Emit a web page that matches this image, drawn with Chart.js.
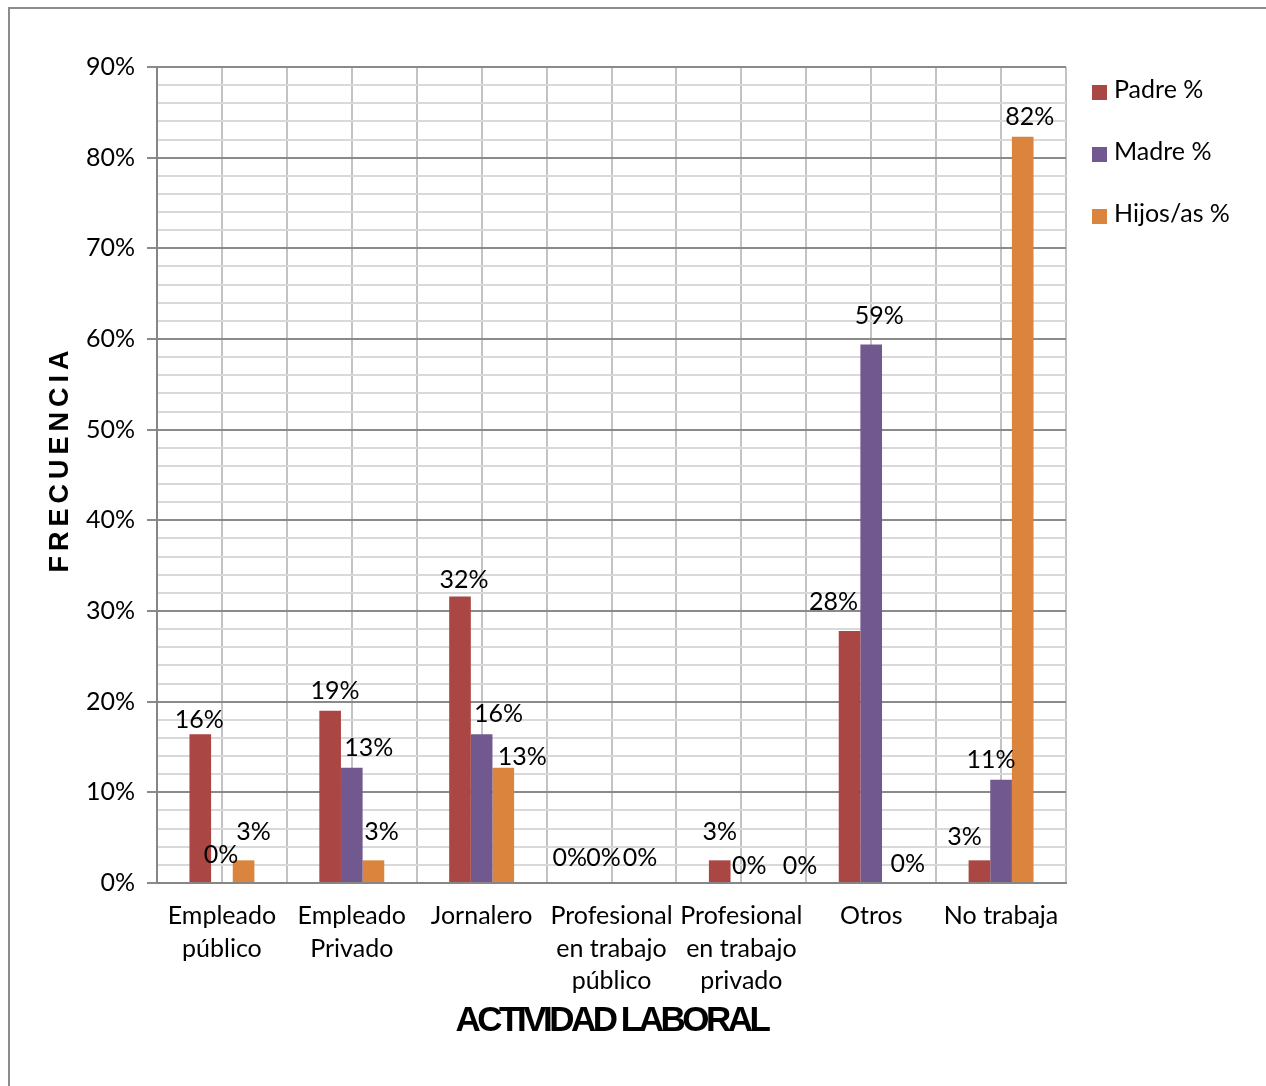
<!DOCTYPE html>
<html lang="es">
<head>
<meta charset="utf-8">
<title>Actividad laboral</title>
<script src="https://cdn.jsdelivr.net/npm/chart.js@4.4.1/dist/chart.umd.min.js"></script>
<style>
  html, body { margin: 0; padding: 0; background: #ffffff; }
  #wrap { position: relative; width: 1266px; height: 1086px; overflow: hidden; }
  #frame {
    position: absolute; left: 8px; top: 7px; width: 1300px; height: 1120px;
    border-top: 2px solid #8c8c8c; border-left: 2px solid #8c8c8c;
    box-sizing: border-box;
  }
  #chart { position: absolute; left: 0; top: 0; }
</style>
</head>
<body>
<div id="wrap">
  <div id="frame"></div>
  <canvas id="chart" width="1266" height="1086"></canvas>
</div>
<script>
// Categorías de actividad laboral (etiquetas del eje X)
const categorias = [
  ['Empleado', 'público'],
  ['Empleado', 'Privado'],
  'Jornalero',
  ['Profesional', 'en trabajo', 'público'],
  ['Profesional', 'en trabajo', 'privado'],
  'Otros',
  'No trabaja'
];

// Porcentajes por miembro de la familia
const padre = [16.4, 19.0, 31.6, 0, 2.5, 27.8, 2.5];
const madre = [0, 12.7, 16.4, 0, 0, 59.4, 11.4];
const hijos = [2.5, 2.5, 12.7, 0, 0, 0, 82.3];

const nombresSeries = ['Padre %', 'Madre %', 'Hijos/as %'];
const coloresSeries = ['#AA4643', '#71588F', '#DB843D'];

// Eje Y: 0–90 %, rejilla menor cada 2 %, etiquetas cada 10 %
const ejeMax = 90;
const pasoMenor = 2;
const pasoMayor = 10;

const tituloX = 'ACTIVIDAD LABORAL';
const tituloY = 'FRECUENCIA';

// Desplazamiento de cada etiqueta de valor respecto al extremo de su barra [dx, dy]
const ajusteEtiquetas = [
  [[-1, -14], [5, -20], [4, -17], [-20, -25], [0, -28], [-16, -29], [-15, -23]],
  [[-1, -28], [17, -20], [17, -20], [-8, -25], [8, -17], [8, -29], [-10, -20]],
  [[10, -28], [8, -28], [19, -11], [7, -25], [37, -17], [15, -19], [7, -20]]
];

const fuente = 'Lato, "Open Sans", "DejaVu Sans", sans-serif';
const fuenteTitulo = '"Liberation Sans", Arial, "DejaVu Sans", sans-serif';

// Líneas verticales de la rejilla: bordes y centros de cada categoría
const rejillaVertical = {
  id: 'rejillaVertical',
  beforeDraw(chart) {
    const { ctx, chartArea: a, scales: { x } } = chart;
    const n = chart.data.labels.length;
    const xs = [];
    for (let i = 0; i < n; i++) {
      const c = x.getPixelForValue(i);
      const h = x.getPixelForValue(i + 0.5) - c;
      xs.push(c - h, c);
      if (i === n - 1) xs.push(c + h);
    }
    ctx.save();
    ctx.strokeStyle = '#c3c3c3';
    ctx.lineWidth = 2;
    xs.forEach(px => {
      ctx.beginPath();
      ctx.moveTo(Math.round(px), a.top);
      ctx.lineTo(Math.round(px), a.bottom);
      ctx.stroke();
    });
    ctx.restore();
  }
};

// Etiquetas de valor sobre cada barra
const etiquetasValor = {
  id: 'etiquetasValor',
  afterDatasetsDraw(chart) {
    const { ctx } = chart;
    ctx.save();
    ctx.font = '25px ' + fuente;
    ctx.fillStyle = '#000000';
    ctx.textAlign = 'center';
    ctx.textBaseline = 'middle';
    chart.data.datasets.forEach((ds, di) => {
      const meta = chart.getDatasetMeta(di);
      meta.data.forEach((bar, i) => {
        const [dx, dy] = ajusteEtiquetas[di][i];
        ctx.fillText(Math.round(ds.data[i]) + '%', bar.x + dx, bar.y + dy);
      });
    });
    ctx.restore();
  }
};

// Títulos de los ejes y leyenda
const titulosYLeyenda = {
  id: 'titulosYLeyenda',
  afterDraw(chart) {
    const { ctx, chartArea: a } = chart;
    ctx.save();
    ctx.fillStyle = '#000000';
    ctx.textAlign = 'center';
    ctx.textBaseline = 'middle';

    // Título del eje Y
    ctx.save();
    ctx.translate(61, (a.top + a.bottom) / 2 - 16);
    ctx.rotate(-Math.PI / 2);
    ctx.font = 'bold 27px ' + fuenteTitulo;
    if ('letterSpacing' in ctx) ctx.letterSpacing = '5px';
    ctx.fillText(tituloY, 0, 0);
    ctx.restore();

    // Título del eje X
    ctx.save();
    ctx.font = 'bold 35px ' + fuenteTitulo;
    if ('letterSpacing' in ctx) ctx.letterSpacing = '-3.5px';
    ctx.fillText(tituloX, (a.left + a.right) / 2, 1021);
    ctx.restore();

    // Leyenda
    ctx.font = '25px ' + fuente;
    ctx.textAlign = 'left';
    chart.data.datasets.forEach((ds, i) => {
      const y = a.top + 23 + i * 62;
      ctx.fillStyle = ds.backgroundColor;
      ctx.fillRect(a.right + 26, y - 5, 15, 15);
      ctx.fillStyle = '#000000';
      ctx.fillText(ds.label, a.right + 48, y);
    });
    ctx.restore();
  }
};

const esMayor = v => Math.abs(v % pasoMayor) < 1e-6;

new Chart(document.getElementById('chart'), {
  type: 'bar',
  data: {
    labels: categorias,
    datasets: [
      { label: nombresSeries[0], data: padre, backgroundColor: coloresSeries[0] },
      { label: nombresSeries[1], data: madre, backgroundColor: coloresSeries[1] },
      { label: nombresSeries[2], data: hijos, backgroundColor: coloresSeries[2] }
    ]
  },
  options: {
    responsive: false,
    animation: false,
    devicePixelRatio: 1,
    layout: { padding: { top: 67, right: 200, bottom: 0, left: 0 } },
    datasets: { bar: { categoryPercentage: 0.5, barPercentage: 1.0, borderWidth: 0 } },
    plugins: {
      legend: { display: false },
      tooltip: { enabled: false }
    },
    scales: {
      x: {
        offset: true,
        grid: { display: false, drawTicks: false },
        border: { display: true, color: '#868686', width: 2 },
        ticks: {
          color: '#000000',
          font: { family: fuente, size: 25, lineHeight: 1.3 },
          padding: 17,
          maxRotation: 0,
          autoSkip: false
        },
        afterFit(scale) { scale.height = 203; }
      },
      y: {
        min: 0,
        max: ejeMax,
        border: { display: true, color: '#868686', width: 2 },
        grid: {
          color: c => esMayor(c.tick.value) ? '#8a8a8a' : '#d9d9d9',
          tickColor: c => esMayor(c.tick.value) ? '#8a8a8a' : 'rgba(0,0,0,0)',
          lineWidth: 2,
          tickLength: 10
        },
        ticks: {
          stepSize: pasoMenor,
          autoSkip: false,
          color: '#000000',
          padding: 12,
          font: { family: fuente, size: 25 },
          callback: v => esMayor(v) ? v + '%' : ''
        },
        afterFit(scale) { scale.width = 157; }
      }
    }
  },
  plugins: [rejillaVertical, etiquetasValor, titulosYLeyenda]
});
</script>
</body>
</html>
